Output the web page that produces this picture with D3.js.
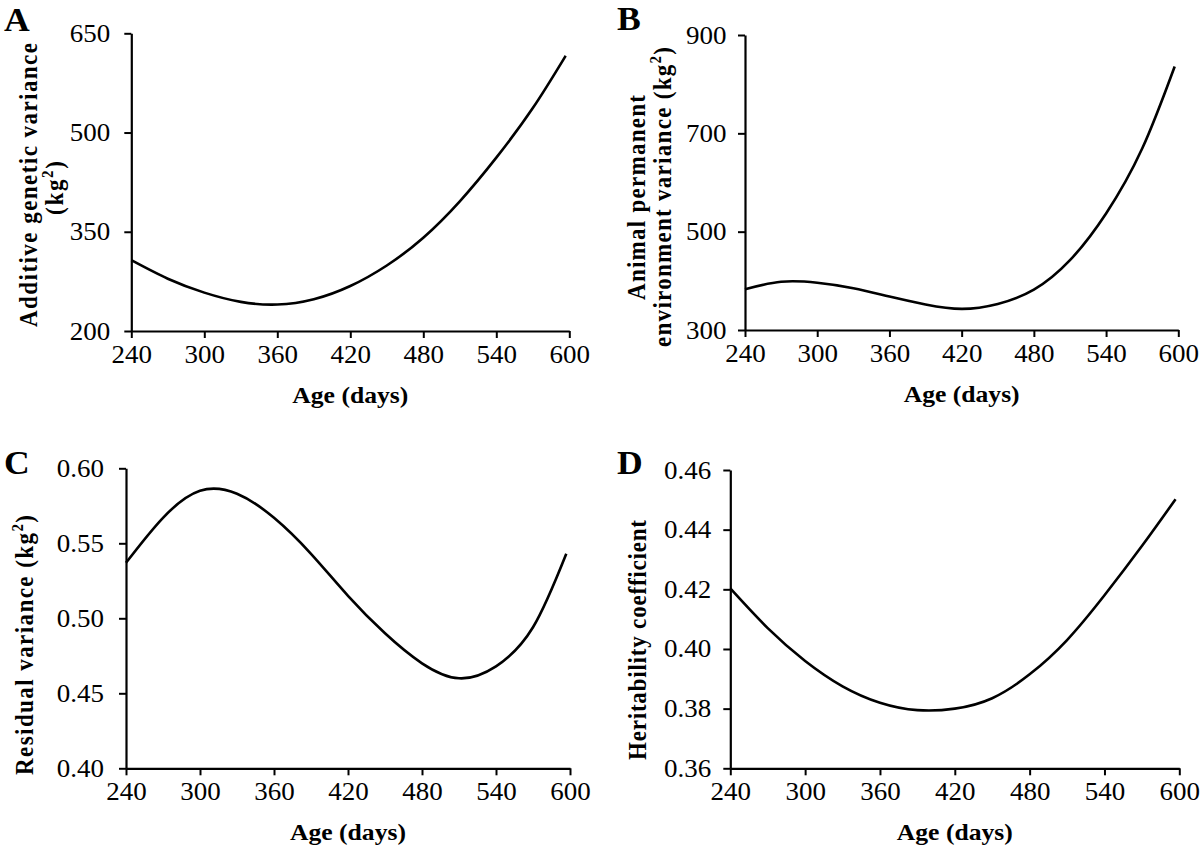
<!DOCTYPE html>
<html><head><meta charset="utf-8">
<script src="https://cdn.jsdelivr.net/npm/d3@7"></script>
<style>body{margin:0;background:#fff}svg{display:block}</style>
</head><body><svg id="c" width="1200" height="849"></svg>
<script>
// ---- data ----
const ages = [240, 270, 300, 330, 360, 390, 420, 450, 480, 510, 540, 570, 597];
const additiveVar  = [307, 279, 258, 244, 240, 248, 268, 299, 341, 396, 462, 537, 616];
const permEnvVar   = [383, 398, 396, 385, 368, 352, 343, 353, 382, 442, 537, 669, 836];
const residualVar  = [0.537, 0.567, 0.585, 0.583, 0.567, 0.543, 0.515, 0.490, 0.470, 0.460, 0.468, 0.494, 0.543];
const heritability = [0.4203, 0.4070, 0.3960, 0.3875, 0.3820, 0.3795, 0.3800, 0.3835, 0.3915, 0.4030, 0.4180, 0.4345, 0.4502];
const xTicks  = [240, 300, 360, 420, 480, 540, 600];
const yTicksA = [200, 350, 500, 650];
const yTicksB = [300, 500, 700, 900];
const yTicksC = [0.40, 0.45, 0.50, 0.55, 0.60];
const yTicksD = [0.36, 0.38, 0.40, 0.42, 0.44, 0.46];
const panelLetters = ["A", "B", "C", "D"];
const xTitle = "Age (days)";

// ---- layout ----
const SX = 1.08; // slight horizontal stretch of the original figure's glyphs
const FONT = "'Liberation Serif','Times New Roman',serif";
const panels = [
  { letter: panelLetters[0], values: additiveVar, yTicks: yTicksA, fmt: d3.format("d"),
    x0: 131.3, x1: 569.3, top: 33.3, bottom: 331, gap: 21,
    lx: 4, ly: 31,
    titles: [ { parts: [["Additive  genetic  variance"]], bx: 37, cy: 185, len: 284 },
              { parts: [["(kg"], ["2", true], [")"]], bx: 63, cy: 188, len: 54 } ] },
  { letter: panelLetters[1], values: permEnvVar, yTicks: yTicksB, fmt: d3.format("d"),
    x0: 745, x1: 1178.3, top: 35, bottom: 330, gap: 18.5,
    lx: 617, ly: 30,
    titles: [ { parts: [["Animal permanent"]], bx: 645, cy: 197.5, len: 205 },
              { parts: [["environment variance  (kg"], ["2", true], [")"]], bx: 671, cy: 197, len: 300 } ] },
  { letter: panelLetters[2], values: residualVar, yTicks: yTicksC, fmt: d3.format(".2f"),
    x0: 126, x1: 570, top: 468.3, bottom: 768.3, gap: 22,
    lx: 4, ly: 474,
    titles: [ { parts: [["Residual  variance  (kg"], ["2", true], [")"]], bx: 33, cy: 645, len: 260 } ] },
  { letter: panelLetters[3], values: heritability, yTicks: yTicksD, fmt: d3.format(".2f"),
    x0: 730.3, x1: 1179.3, top: 470, bottom: 768.3, gap: 19,
    lx: 617, ly: 474,
    titles: [ { parts: [["Heritability coefficient"]], bx: 646, cy: 640, len: 240 } ] }
];

const svg = d3.select("#c");
const TICK = 7;

panels.forEach(p => {
  const x = d3.scaleLinear().domain([xTicks[0], xTicks[xTicks.length - 1]]).range([p.x0, p.x1]);
  const y = d3.scaleLinear().domain([p.yTicks[0], p.yTicks[p.yTicks.length - 1]]).range([p.bottom, p.top]);
  const g = svg.append("g");

  // x axis
  const gx = g.append("g").attr("transform", `translate(0,${p.bottom})`)
    .call(d3.axisBottom(x).tickValues(xTicks).tickFormat(d3.format("d"))
      .tickSize(TICK).tickSizeOuter(0).tickPadding(7));
  // y axis
  const padY = p.gap / SX - TICK;
  const gy = g.append("g").attr("transform", `translate(${p.x0},0)`)
    .call(d3.axisLeft(y).tickValues(p.yTicks).tickFormat(p.fmt)
      .tickSize(TICK).tickSizeOuter(0).tickPadding(padY));

  [gx, gy].forEach(a => {
    a.select(".domain").attr("stroke", "#000").attr("stroke-width", 2.2);
    a.selectAll(".tick line").attr("stroke", "#000").attr("stroke-width", 2);
    a.selectAll(".tick text").attr("fill", "#000")
      .style("font-family", FONT).style("font-size", "25px")
      .attr("transform", `scale(${SX},1)`);
  });

  // curve
  const line = d3.line().x((d, i) => x(ages[i])).y(d => y(d)).curve(d3.curveNatural);
  g.append("path").datum(p.values).attr("d", line)
    .attr("fill", "none").attr("stroke", "#000").attr("stroke-width", 2.6)
    .attr("stroke-linejoin", "round");

  // x title
  g.append("text")
    .attr("transform", `translate(${(p.x0 + p.x1) / 2},${p.bottom + 72}) scale(${SX},1)`)
    .attr("text-anchor", "middle").attr("textLength", 116 / SX).attr("lengthAdjust", "spacingAndGlyphs")
    .style("font-family", FONT).style("font-size", "24px").style("font-weight", "bold")
    .text(xTitle);

  // y titles
  p.titles.forEach(t => {
    const tx = g.append("text")
      .attr("transform", `translate(${t.bx},${t.cy}) scale(${SX},1) rotate(-90)`)
      .attr("text-anchor", "middle")
      .attr("textLength", t.len).attr("lengthAdjust", "spacing")
      .style("font-family", FONT).style("font-size", "23px").style("font-weight", "bold");
    let raised = false;
    t.parts.forEach(([s, sup]) => {
      const ts = tx.append("tspan").text(s);
      if (sup) { ts.attr("dy", -9).style("font-size", "15px"); raised = true; }
      else if (raised) { ts.attr("dy", 9); raised = false; }
    });
  });

  // panel letter
  g.append("text")
    .attr("transform", `translate(${p.lx},${p.ly}) scale(${SX},1)`)
    .style("font-family", FONT).style("font-size", "33px").style("font-weight", "bold")
    .text(p.letter);
});
</script></body></html>
